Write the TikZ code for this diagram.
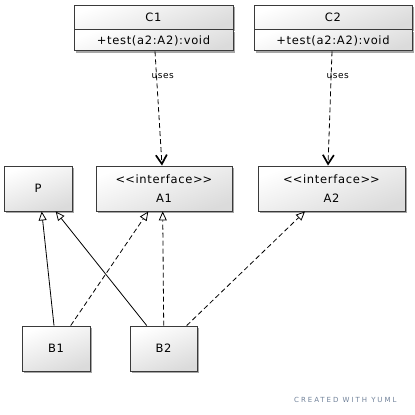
\documentclass[tikz,border=0pt]{standalone}
\usepackage{fontspec}
\setmainfont{DejaVu Sans}[LetterSpace=6]
\newfontfamily\creditfont{DejaVu Sans}[LetterSpace=28]
\usetikzlibrary{arrows.meta,shadows}
\definecolor{boxline}{HTML}{3A3A3A}
\definecolor{creditgray}{HTML}{71829A}
\newcommand{\stereo}[1]{\textless\kern0pt\textless #1\textgreater\kern0pt\textgreater}
\begin{document}
\begin{tikzpicture}[x=1pt,y=-1pt,
  box/.style={draw=boxline, line width=0.9pt,
    top color=white, bottom color=black!14, shading angle=20,
    drop shadow={shadow xshift=2pt, shadow yshift=-2pt, opacity=0.35, fill=black},
    inner sep=0pt, align=center,
    font=\fontsize{11.5}{19}\selectfont},
  uses/.style={draw=black, line width=0.8pt, dash pattern=on 5pt off 3pt,
    -{Straight Barb[length=9pt, width=11pt, line width=1.7pt]}},
  realize/.style={draw=black, line width=0.8pt, dash pattern=on 5pt off 3pt,
    -{Triangle[open, fill=white, length=9pt, width=8pt, line width=0.8pt]}},
  extend/.style={draw=black, line width=0.8pt,
    -{Triangle[open, fill=white, length=9pt, width=8pt, line width=0.8pt]}},
  lbl/.style={font=\fontsize{9}{10}\selectfont, inner sep=0pt}
]
\fill[white] (0,0) rectangle (415,415);
\useasboundingbox (0,0) rectangle (415,415);

% client classes
\node[box, minimum width=159pt, minimum height=24pt] (C1) at (153.5,17) {C1};
\node[box, minimum width=159pt, minimum height=21pt, anchor=north] (C1m) at (C1.south) {+test(a2:A2):void};
\node[box, minimum width=158pt, minimum height=24pt] (C2) at (333,17) {C2};
\node[box, minimum width=158pt, minimum height=21pt, anchor=north] (C2m) at (C2.south) {+test(a2:A2):void};

% base class and interfaces
\node[box, minimum width=68pt, minimum height=45pt] (P) at (38,188.5) {P};
\node[box, minimum width=136pt, minimum height=45pt] (A1) at (164,188.5) {\stereo{interface}\\A1};
\node[box, minimum width=147pt, minimum height=45pt] (A2) at (331.5,188.5) {\stereo{interface}\\A2};

% implementations
\node[box, minimum width=68pt, minimum height=45pt] (B1) at (56,348.5) {B1};
\node[box, minimum width=67pt, minimum height=45pt] (B2) at (163.5,348.5) {B2};

% dependencies
\draw[uses] ([xshift=1.5pt]C1m.south) -- ([xshift=-2pt]A1.north);
\node[lbl, anchor=west] (u1) at (151.5,76) {uses};
\draw[uses] ([xshift=-1pt]C2m.south) -- ([xshift=-3.5pt]A2.north);
\node[lbl, anchor=west] (u2) at (326.5,76) {uses};

% generalisations and realisations
\draw[extend] ([xshift=-2pt]B1.north) -- ([xshift=3.7pt]P.south);
\draw[realize] ([xshift=14.7pt]B1.north) -- ([xshift=-15.7pt]A1.south);
\draw[extend] ([xshift=-16.8pt]B2.north) -- ([xshift=17.7pt]P.south);
\draw[realize] ([xshift=0.2pt]B2.north) -- ([xshift=-1.3pt]A1.south);
\draw[realize] ([xshift=23.2pt]B2.north) -- ([xshift=-26.5pt]A2.south);

\node[font=\creditfont\fontsize{7}{8}\selectfont, text=creditgray, anchor=west, inner sep=0pt] (credit) at (294,400) {CREATED WITH YUML};
\end{tikzpicture}
\end{document}
